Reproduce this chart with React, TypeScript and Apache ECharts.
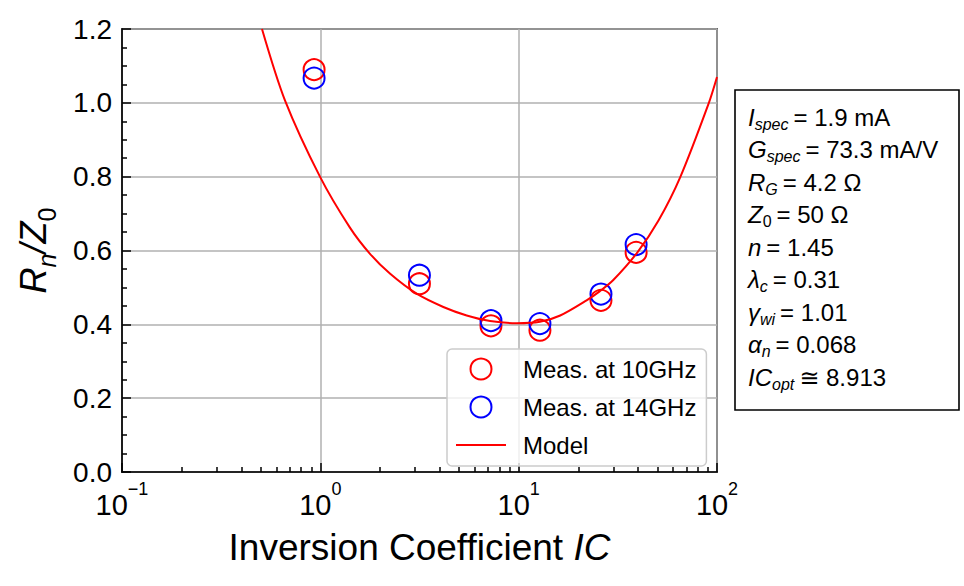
import { useEffect, useRef } from 'react';
import * as echarts from 'echarts';

// measured points (IC, Rn/Z0)
const icMeas = [0.93, 3.16, 7.25, 12.8, 26.0, 39.1];
const rn10GHz = [1.09, 0.51, 0.396, 0.384, 0.465, 0.595];
const rn14GHz = [1.067, 0.533, 0.41, 0.402, 0.482, 0.616];

// model curve
const modelIC = [0.508, 0.664, 1.0, 1.41, 1.78, 2.25, 3.06, 4.17, 5.47, 7.18, 9.78, 12.8, 16.2, 22.0, 25.7, 30.0, 39.7, 50.7, 65.2, 90.6, 100];
const modelRn = [1.2, 1.006, 0.798, 0.662, 0.591, 0.537, 0.483, 0.447, 0.424, 0.409, 0.403, 0.407, 0.424, 0.465, 0.49, 0.52, 0.595, 0.681, 0.798, 0.997, 1.07];

const xTickValues = [0.1, 1, 10, 100];
const xTickExponents = ['\u22121', '0', '1', '2'];
const xMinorTicks = [0.2, 0.3, 0.4, 0.5, 0.6, 0.7, 0.8, 0.9, 2, 3, 4, 5, 6, 7, 8, 9, 20, 30, 40, 50, 60, 70, 80, 90];
const yTickLabels = ['0.0', '0.2', '0.4', '0.6', '0.8', '1.0', '1.2'];

const seriesNames = ['Meas. at 10GHz', 'Meas. at 14GHz', 'Model'];

// parameter box
const paramSymbols = ['I', 'G', 'R', 'Z', 'n', '\u03bb', '\u03b3', '\u03b1', 'IC'];
const paramSubs = ['spec', 'spec', 'G', '0', '', 'c', 'wi', 'n', 'opt'];
const paramValues = ['= 1.9 mA', '= 73.3 mA/V', '= 4.2 \u03a9', '= 50 \u03a9', '= 1.45', '= 0.31', '= 1.01', '= 0.068', '\u2245 8.913'];

const FONT = '"Liberation Sans", Arial, "DejaVu Sans", sans-serif';

export default function App() {
  const ref = useRef<HTMLDivElement>(null);

  useEffect(() => {
    if (!ref.current) return;
    const chart = echarts.init(ref.current, undefined, { renderer: 'svg' });

    const boxRich = {
      m: { fontSize: 24, fontStyle: 'italic', lineHeight: 29.5, padding: [0, 0, 3, 0], verticalAlign: 'bottom', fill: '#000', fontFamily: FONT },
      s: { fontSize: 16, fontStyle: 'italic', lineHeight: 18, verticalAlign: 'bottom', fill: '#000', fontFamily: FONT },
      s0: { fontSize: 16, lineHeight: 18, verticalAlign: 'bottom', fill: '#000', fontFamily: FONT },
      v: { fontSize: 24, lineHeight: 29.5, padding: [0, 0, 3, 5], verticalAlign: 'bottom', fill: '#000', fontFamily: FONT },
    };

    const boxLines = paramSymbols.map((sym, i) => {
      const sub = paramSubs[i];
      const subTok = sub === '' ? '' : sub === '0' ? `{s0|${sub}}` : `{s|${sub}}`;
      return {
        type: 'text',
        x: 748,
        y: 117.5 + i * 32.5,
        style: {
          text: `{m|${sym}}${subTok}{v|${paramValues[i]}}`,
          rich: boxRich,
          verticalAlign: 'middle',
          align: 'left',
          fill: '#000',
          fontFamily: FONT,
        },
      };
    });

    const circleItem = (color: string) => ({
      color: 'rgba(0,0,0,0)',
      borderColor: color,
      borderWidth: 2,
      opacity: 1,
    });

    chart.setOption({
      animation: false,
      backgroundColor: '#fff',
      textStyle: { fontFamily: FONT, color: '#000' },
      grid: {
        left: 122,
        right: 247,
        top: 29,
        bottom: 114,
        show: true,
        borderColor: '#000',
        borderWidth: 1.6,
        backgroundColor: 'transparent',
      },
      xAxis: [
        {
          type: 'log',
          logBase: 10,
          min: 0.1,
          max: 100,
          name: 'Inversion Coefficient {i|IC}',
          nameLocation: 'middle',
          nameGap: 55,
          nameTextStyle: {
            fontSize: 37,
            color: '#000',
            lineHeight: 40,
            rich: { i: { fontSize: 37, fontStyle: 'italic', lineHeight: 40, color: '#000' } },
          },
          axisLine: { show: true, lineStyle: { color: '#000', width: 1.6 } },
          axisTick: { show: true, inside: true, length: 9, lineStyle: { color: '#000', width: 1.5 } },
          splitLine: { show: true, lineStyle: { color: '#b0b0b0', width: 1.5 } },
          axisLabel: {
            margin: 8,
            fontSize: 29,
            color: '#000',
            formatter: (v: number) => {
              const idx = xTickValues.findIndex((t) => Math.abs(Math.log10(t) - Math.log10(v)) < 1e-6);
              return idx < 0 ? '' : `{b|10}{e|${xTickExponents[idx]}}`;
            },
            rich: {
              b: { fontSize: 29, lineHeight: 50, verticalAlign: 'middle', color: '#000' },
              e: { fontSize: 18, lineHeight: 18, verticalAlign: 'top', color: '#000' },
            },
          },
        },
        {
          type: 'log',
          logBase: 10,
          min: 0.1,
          max: 100,
          gridIndex: 0,
          position: 'bottom',
          axisLine: { show: false },
          axisLabel: { show: false },
          splitLine: { show: false },
          axisTick: {
            show: true,
            inside: true,
            length: 5,
            customValues: xMinorTicks,
            lineStyle: { color: '#000', width: 1.5 },
          },
        },
      ],
      yAxis: {
        type: 'value',
        min: 0,
        max: 1.2,
        interval: 0.2,
        name: '{m|R}{s|n}{m|/Z}{s0|0}',
        nameLocation: 'middle',
        nameRotate: 90,
        nameGap: 63,
        nameTextStyle: {
          color: '#000',
          rich: {
            m: { fontSize: 36, fontStyle: 'italic', lineHeight: 40, padding: [0, 0, 8, 0], verticalAlign: 'bottom', color: '#000' },
            s: { fontSize: 25, fontStyle: 'italic', lineHeight: 28, verticalAlign: 'bottom', color: '#000' },
            s0: { fontSize: 25, lineHeight: 28, verticalAlign: 'bottom', color: '#000' },
          },
        },
        axisLine: { show: true, lineStyle: { color: '#000', width: 1.6 } },
        axisTick: { show: true, inside: true, length: 9, lineStyle: { color: '#000', width: 1.5 } },
        minorTick: { show: true, splitNumber: 4, length: 5, lineStyle: { color: '#000', width: 1.5 } },
        splitLine: { show: true, lineStyle: { color: '#b0b0b0', width: 1.5 } },
        axisLabel: {
          margin: 10,
          fontSize: 28,
          color: '#000',
          formatter: (v: number) => yTickLabels[Math.round(v / 0.2)] ?? '',
        },
      },
      legend: {
        orient: 'vertical',
        left: 447,
        top: 349,
        itemWidth: 50,
        itemHeight: 21,
        itemGap: 14,
        padding: [8, 10, 9, 8],
        backgroundColor: 'rgba(255,255,255,0.8)',
        borderColor: '#cccccc',
        borderWidth: 1.5,
        borderRadius: 5,
        textStyle: { fontSize: 24, lineHeight: 21, color: '#000', padding: [0, 0, 0, 12] },
        data: [
          { name: seriesNames[0], icon: 'circle', itemStyle: circleItem('#ff0000') },
          { name: seriesNames[1], icon: 'circle', itemStyle: circleItem('#0000ff') },
          { name: seriesNames[2], itemStyle: { opacity: 0 } },
        ],
      },
      graphic: [
        {
          type: 'rect',
          shape: { x: 735, y: 90, width: 224, height: 320 },
          style: { fill: '#fff', stroke: '#000', lineWidth: 1.6 },
        },
        ...boxLines,
      ],
      series: [
        {
          name: seriesNames[0],
          type: 'scatter',
          symbol: 'circle',
          symbolSize: 21,
          itemStyle: circleItem('#ff0000'),
          data: icMeas.map((x, i) => [x, rn10GHz[i]]),
        },
        {
          name: seriesNames[1],
          type: 'scatter',
          symbol: 'circle',
          symbolSize: 21,
          itemStyle: circleItem('#0000ff'),
          data: icMeas.map((x, i) => [x, rn14GHz[i]]),
        },
        {
          name: seriesNames[2],
          type: 'line',
          showSymbol: false,
          symbol: 'none',
          smooth: 0.3,
          clip: true,
          lineStyle: { color: '#ff0000', width: 2 },
          itemStyle: { color: '#ff0000' },
          data: modelIC.map((x, i) => [x, modelRn[i]]),
        },
      ],
    });

    return () => chart.dispose();
  }, []);

  return (
    <div
      ref={ref}
      style={{ position: 'fixed', left: 0, top: 0, width: 964, height: 586, background: '#fff' }}
    />
  );
}
